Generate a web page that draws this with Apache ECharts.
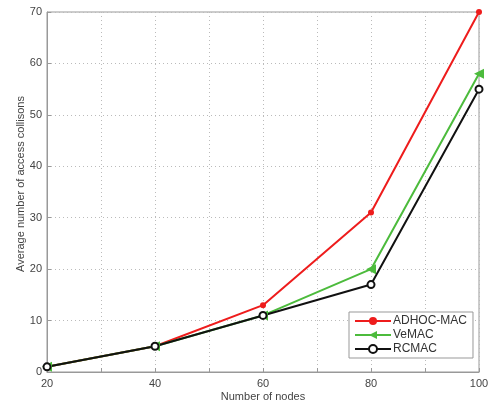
<!DOCTYPE html>
<html>
<head>
<meta charset="utf-8">
<script src="https://cdn.jsdelivr.net/npm/echarts@6/dist/echarts.min.js"></script>
<style>
  html, body { margin: 0; padding: 0; background: #fff; }
  #chart { width: 491px; height: 403px; }
</style>
</head>
<body>
<div id="chart"></div>
<script>
var nodes = [20, 40, 60, 80, 100];
var adhocMac = [1, 5, 13, 31, 70];
var veMac = [1, 5, 11, 20, 58];
var rcMac = [1, 5, 11, 17, 55];

function pairs(ys) {
  return nodes.map(function (x, i) { return [x, ys[i]]; });
}

var textStyle = { fontFamily: 'Liberation Sans', fontSize: 11, color: '#444' };

var option = {
  animation: false,
  backgroundColor: '#fff',
  grid: {
    left: 47, right: 12, top: 12, bottom: 31,
    outerBoundsMode: 'none',
    show: true, borderColor: '#999', borderWidth: 1
  },
  legend: {
    orient: 'vertical',
    left: 349, top: 312,
    width: 117,
    padding: [3, 6, 3, 5],
    itemGap: 2,
    itemWidth: 36, itemHeight: 10,
    backgroundColor: '#fff',
    borderColor: '#999', borderWidth: 1,
    textStyle: { fontFamily: 'Liberation Sans', fontSize: 12, color: '#333', padding: [0, 0, 0, -3] },
    data: ['ADHOC-MAC', 'VeMAC', 'RCMAC']
  },
  xAxis: {
    type: 'value', min: 20, max: 100, interval: 10,
    name: 'Number of nodes', nameLocation: 'middle', nameGap: 19,
    nameMoveOverlap: false,
    nameTextStyle: textStyle,
    axisLine: { lineStyle: { color: '#999' } },
    axisTick: { inside: true, length: 4, lineStyle: { color: '#999' } },
    axisLabel: {
      margin: 6,
      fontFamily: 'Liberation Sans', fontSize: 11, color: '#444',
      formatter: function (v) { return v % 20 === 0 ? v : ''; }
    },
    splitLine: { show: true, lineStyle: { type: [1, 3], color: '#bbb' } }
  },
  yAxis: {
    type: 'value', min: 0, max: 70, interval: 10,
    name: 'Average number of access collisons', nameLocation: 'middle', nameGap: 21,
    nameMoveOverlap: false,
    nameTextStyle: { fontFamily: 'Liberation Sans', fontSize: 11, color: '#444', padding: [0, 0, 0, 16] },
    axisLine: { lineStyle: { color: '#999' } },
    axisTick: { inside: true, length: 4, lineStyle: { color: '#999' } },
    axisLabel: { margin: 5, fontFamily: 'Liberation Sans', fontSize: 11, color: '#444' },
    splitLine: { show: true, lineStyle: { type: [1, 3], color: '#bbb' } }
  },
  series: [
    {
      name: 'ADHOC-MAC', type: 'line', data: pairs(adhocMac),
      symbol: 'circle', symbolSize: 6,
      lineStyle: { color: '#ee1c1c', width: 2 },
      itemStyle: { color: '#ee1c1c' }
    },
    {
      name: 'VeMAC', type: 'line', data: pairs(veMac),
      symbol: 'triangle', symbolSize: 10, symbolRotate: 90,
      lineStyle: { color: '#4cbb3c', width: 2 },
      itemStyle: { color: '#4cbb3c' }
    },
    {
      name: 'RCMAC', type: 'line', data: pairs(rcMac),
      symbol: 'emptyCircle', symbolSize: 7,
      lineStyle: { color: '#111', width: 2 },
      itemStyle: { color: '#111', borderWidth: 1.8 }
    }
  ]
};

var chart = echarts.init(document.getElementById('chart'), null, { renderer: 'canvas' });
chart.setOption(option);
window.addEventListener('resize', chart.resize);
</script>
</body>
</html>
